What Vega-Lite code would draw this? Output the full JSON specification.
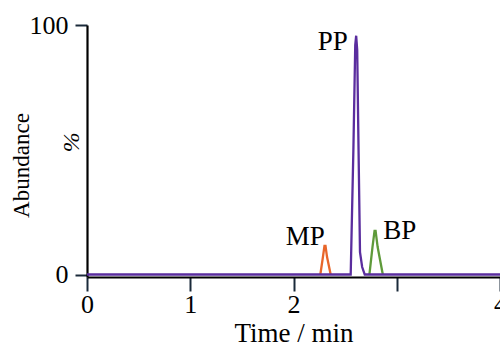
{
  "$schema": "https://vega.github.io/schema/vega-lite/v6.json",
  "autosize": {"type": "none"},
  "padding": {"left": 87, "top": 25, "right": 0, "bottom": 70},
  "width": 413,
  "height": 252,
  "background": "white",
  "config": {
    "view": {"stroke": null},
    "font": "Liberation Serif",
    "axis": {"labelFont": "Liberation Serif", "titleFont": "Liberation Serif", "labelFontSize": 26, "titleFontSize": 27, "labelColor": "black", "titleColor": "black", "titleFontWeight": "normal", "domainColor": "black", "tickColor": "#1a2a3a", "domainWidth": 2.2, "tickWidth": 2, "grid": false}
  },
  "datasets": {
    "traces": [
      {"s": "MP", "t": 2.26, "v": 0}, {"s": "MP", "t": 2.285, "v": 7}, {"s": "MP", "t": 2.3, "v": 11.5}, {"s": "MP", "t": 2.31, "v": 11.5}, {"s": "MP", "t": 2.325, "v": 7}, {"s": "MP", "t": 2.36, "v": 0},
      {"s": "BP", "t": 2.735, "v": 0}, {"s": "BP", "t": 2.765, "v": 11}, {"s": "BP", "t": 2.785, "v": 17.5}, {"s": "BP", "t": 2.795, "v": 17.5}, {"s": "BP", "t": 2.815, "v": 11}, {"s": "BP", "t": 2.865, "v": 0},
      {"s": "PP", "t": 0, "v": 0}, {"s": "PP", "t": 2.554, "v": 0}, {"s": "PP", "t": 2.58, "v": 50}, {"s": "PP", "t": 2.598, "v": 92}, {"s": "PP", "t": 2.607, "v": 95.7}, {"s": "PP", "t": 2.617, "v": 90}, {"s": "PP", "t": 2.63, "v": 50}, {"s": "PP", "t": 2.644, "v": 9}, {"s": "PP", "t": 2.665, "v": 3}, {"s": "PP", "t": 2.69, "v": 0}, {"s": "PP", "t": 4, "v": 0}
    ],
    "labels": [
      {"label": "PP", "t": 2.38, "v": 93},
      {"label": "MP", "t": 2.115, "v": 15.1},
      {"label": "BP", "t": 3.03, "v": 17.5}
    ],
    "pct": [{"label": "%", "t": -0.15, "v": 53}]
  },
  "layer": [
    {
      "data": {"name": "traces"},
      "mark": {"type": "line", "strokeWidth": 2.3, "clip": false},
      "encoding": {
        "x": {"field": "t", "type": "quantitative", "scale": {"domain": [0, 4], "nice": false, "zero": false},
              "axis": {"values": [0, 1, 2, 3, 4], "format": "d", "labelExpr": "datum.value == 3 ? '' : datum.label", "title": "Time / min", "tickSize": 14, "labelPadding": 0, "titlePadding": 3, "labelFlush": false}},
        "y": {"field": "v", "type": "quantitative", "scale": {"domain": [-1, 100], "nice": false, "zero": false},
              "axis": {"values": [0, 100], "format": "d", "title": "Abundance", "titleFontSize": 23, "tickSize": 12, "labelPadding": 7, "titleX": -54, "titleY": 140}},
        "color": {"field": "s", "type": "nominal", "scale": {"domain": ["MP", "BP", "PP"], "range": ["#e8662a", "#5e9a3a", "#5a2d9e"]}, "legend": null},
        "order": {"field": "t", "type": "quantitative"}
      }
    },
    {
      "data": {"name": "labels"},
      "mark": {"type": "text", "fontSize": 27, "font": "Liberation Serif", "color": "black"},
      "encoding": {
        "x": {"field": "t", "type": "quantitative"},
        "y": {"field": "v", "type": "quantitative"},
        "text": {"field": "label"}
      }
    },
    {
      "data": {"name": "pct"},
      "mark": {"type": "text", "fontSize": 24, "font": "Liberation Serif", "fontStyle": "italic", "angle": 270, "color": "black", "clip": false},
      "encoding": {
        "x": {"field": "t", "type": "quantitative"},
        "y": {"field": "v", "type": "quantitative"},
        "text": {"field": "label"}
      }
    }
  ]
}
